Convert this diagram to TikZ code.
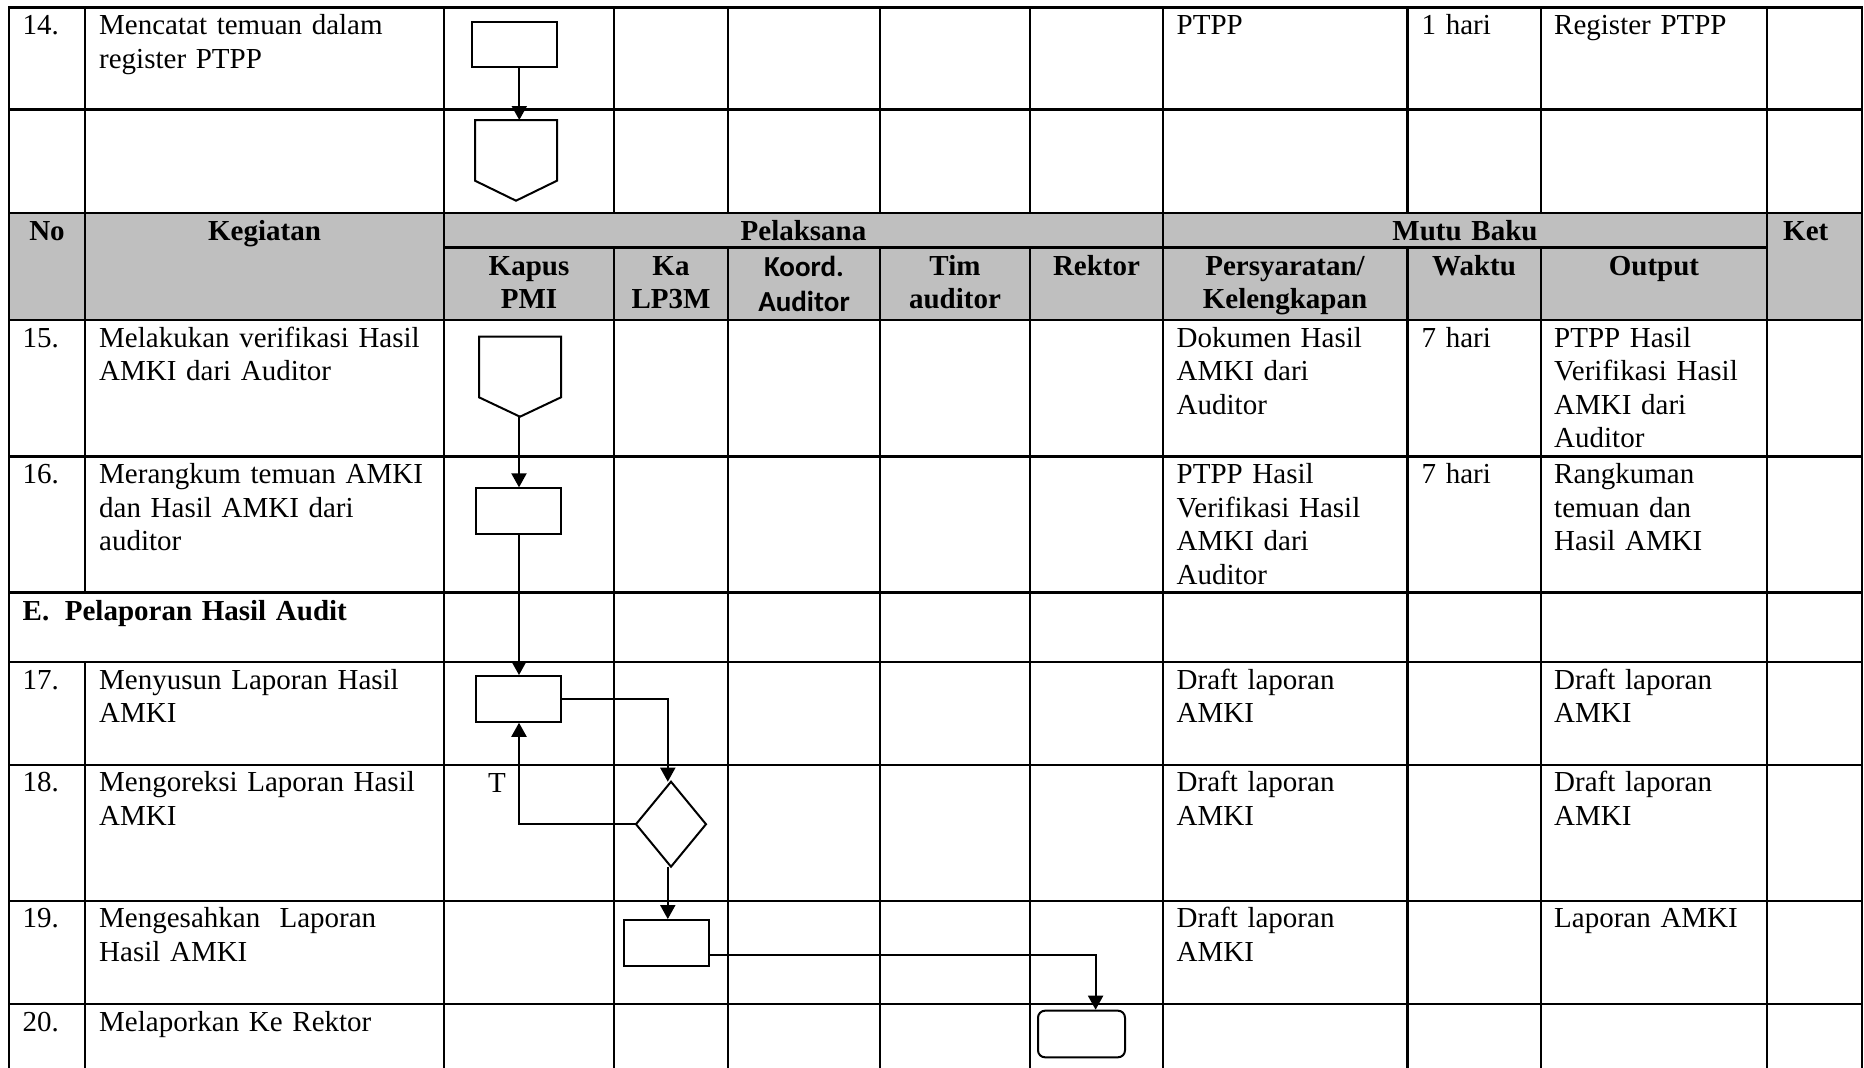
\documentclass[tikz,border=0pt]{standalone}
\usepackage{fontspec}
\setmainfont{Liberation Serif}
\newfontfamily\carlito{Carlito}
\usetikzlibrary{arrows.meta,calc}
\definecolor{hdrgray}{RGB}{191,191,191}
\begin{document}
\begin{tikzpicture}[x=1pt,y=-1pt,
  grid/.style={line width=2.3pt, line cap=rect},
  shp/.style={draw, line width=2pt, fill=white, inner sep=0pt},
  frame/.style={inner sep=0pt, outer sep=0pt},
  lnk/.style={line width=2pt},
  arr/.style={line width=2pt, -{Triangle[width=15pt,length=14pt]}},
  txt/.style={anchor=base west, inner sep=0pt, align=left, text width=#1, font=\fontsize{29}{33.5}\selectfont},
  txt/.default=340pt,
  hd/.style={anchor=base, inner sep=0pt, align=center, text width=#1, font=\fontsize{29}{33.5}\selectfont\bfseries},
]
\useasboundingbox (0,0) rectangle (1864,1068);
% header background
\fill[hdrgray] (9,212.7) rectangle (1862,320);
% grid
\foreach \yy in {7.5,109.5,212.7,320,456.6,592.6,662,764.7,900.8,1004}
  \draw[grid] (9,\yy) -- (1862,\yy);
\draw[grid] (444,247.6) -- (1767,247.6);
\foreach \xx in {9,444,1163,1767,1862}
  \draw[grid] (\xx,7.5) -- (\xx,1068);
\foreach \xx in {614,728,880,1030,1407.5,1541} {
  \draw[grid] (\xx,7.5) -- (\xx,212.7);
  \draw[grid] (\xx,247.6) -- (\xx,1068);
}
\draw[grid] (85,7.5) -- (85,592.6);
\draw[grid] (85,662) -- (85,1068);

% row 14
\node[txt] (n14) at (22.5,34.5) {14.};
\node[txt] (k14) at (99,34.5) {Mencatat temuan dalam\\register PTPP};
\node[txt] (p14) at (1176.5,34.5) {PTPP};
\node[txt] (w14) at (1421.5,34.5) {1 hari};
\node[txt] (o14) at (1554,34.5) {Register PTPP};

% header
\node[hd=76pt] (hNo) at (47,240) {No};
\node[hd=359pt] (hKeg) at (264.5,240) {Kegiatan};
\node[hd=700pt] (hPel) at (803.5,240) {Pelaksana};
\node[hd=600pt] (hMutu) at (1465,240) {Mutu Baku};
\node[txt] (hKet) at (1783,240) {\bfseries Ket};
\node[hd=170pt] (hKapus) at (529,275) {Kapus\\PMI};
\node[hd=114pt] (hKa) at (671,275) {Ka\\LP3M};
\node[hd=152pt, font=\fontsize{29}{35.4}\selectfont\carlito\bfseries] (hKoord) at (804,276) {Koord.\\Auditor};
\node[hd=150pt] (hTim) at (955,275) {Tim\\auditor};
\node[hd=133pt] (hRek) at (1096.5,275) {Rektor};
\node[hd=245pt] (hPers) at (1285,275) {Persyaratan/\\Kelengkapan};
\node[hd=133pt] (hWak) at (1474,275) {Waktu};
\node[hd=226pt] (hOut) at (1654,275) {Output};

% row 15
\node[txt] (n15) at (22.5,347) {15.};
\node[txt] (k15) at (99,347) {Melakukan verifikasi Hasil\\AMKI dari Auditor};
\node[txt] (p15) at (1176.5,347) {Dokumen Hasil\\AMKI dari\\Auditor};
\node[txt] (w15) at (1421.5,347) {7 hari};
\node[txt] (o15) at (1554,347) {PTPP Hasil\\Verifikasi Hasil\\AMKI dari\\Auditor};

% row 16
\node[txt] (n16) at (22.5,483.6) {16.};
\node[txt] (k16) at (99,483.6) {Merangkum temuan AMKI\\dan Hasil AMKI dari\\auditor};
\node[txt] (p16) at (1176.5,483.6) {PTPP Hasil\\Verifikasi Hasil\\AMKI dari\\Auditor};
\node[txt] (w16) at (1421.5,483.6) {7 hari};
\node[txt] (o16) at (1554,483.6) {Rangkuman\\temuan dan\\Hasil AMKI};

% row E
\node[txt] (secE) at (22.5,620.5) {\bfseries E.\hspace{15.6pt}Pelaporan Hasil Audit};

% row 17
\node[txt] (n17) at (22.5,689) {17.};
\node[txt] (k17) at (99,689) {Menyusun Laporan Hasil\\AMKI};
\node[txt] (p17) at (1176.5,689) {Draft laporan\\AMKI};
\node[txt] (o17) at (1554,689) {Draft laporan\\AMKI};

% row 18
\node[txt] (n18) at (22.5,791.7) {18.};
\node[txt] (k18) at (99,791.7) {Mengoreksi Laporan Hasil\\AMKI};
\node[txt] (p18) at (1176.5,791.7) {Draft laporan\\AMKI};
\node[txt] (o18) at (1554,791.7) {Draft laporan\\AMKI};

% row 19
\node[txt] (n19) at (22.5,927.8) {19.};
\node[txt] (k19t) at (99,927.8) {Mengesahkan\ \ Laporan\\Hasil AMKI};
\node[txt] (p19) at (1176.5,927.8) {Draft laporan\\AMKI};
\node[txt] (o19) at (1554,927.8) {Laporan AMKI};

% row 20
\node[txt] (n20) at (22.5,1031) {20.};
\node[txt] (k20) at (99,1031) {Melaporkan Ke Rektor};

% flow shapes
\node[shp, minimum width=85.3pt, minimum height=45.3pt] (b14) at (514.4,44.4) {};
\node[frame, minimum width=82pt, minimum height=80.7pt] (off14) at (516,160.35) {};
\draw[lnk, fill=white] (off14.north west) -- (off14.north east) -- ($(off14.south east)+(0,-20)$) -- (off14.south) -- ($(off14.south west)+(0,-20)$) -- cycle;
\node[frame, minimum width=82pt, minimum height=80pt] (off15) at (520,376.7) {};
\draw[lnk, fill=white] (off15.north west) -- (off15.north east) -- ($(off15.south east)+(0,-19.4)$) -- (off15.south) -- ($(off15.south west)+(0,-19.4)$) -- cycle;
\node[shp, minimum width=84.7pt, minimum height=45.7pt] (b16) at (518.7,511.2) {};
\node[shp, minimum width=85.3pt, minimum height=45.7pt] (b17) at (518.7,698.9) {};
\node[frame, minimum width=70pt, minimum height=85pt] (d18) at (671,824.2) {};
\draw[lnk, fill=white] (d18.north) -- (d18.east) -- (d18.south) -- (d18.west) -- cycle;
\node[shp, minimum width=85.3pt, minimum height=45.7pt] (b19) at (666.3,942.9) {};
\node[shp, rounded corners=7pt, minimum width=87pt, minimum height=46.6pt] (t20) at (1081.5,1034) {};
\node[txt] (lblT) at (487.8,792.7) {T};

% connectors
\coordinate (xa) at (519.3,0);
\coordinate (xb) at (519,0);
\coordinate (xd) at (667.8,0);
\coordinate (k19) at (1095.6,955);
\draw[arr] (b14.south -| xa) -- (off14.north -| xa);
\draw[arr] (off15.south -| xb) -- (b16.north -| xb);
\draw[arr] (b16.south -| xb) -- (b17.north -| xb);
\draw[arr] (b17.east) -| (d18.north -| xd);
\draw[arr] (d18.west) -| (b17.south -| xb);
\draw[arr] (d18.south -| xd) -- (b19.north -| xd);
\draw[arr] (b19.east |- k19) -| (t20.north -| k19);
\end{tikzpicture}
\end{document}
